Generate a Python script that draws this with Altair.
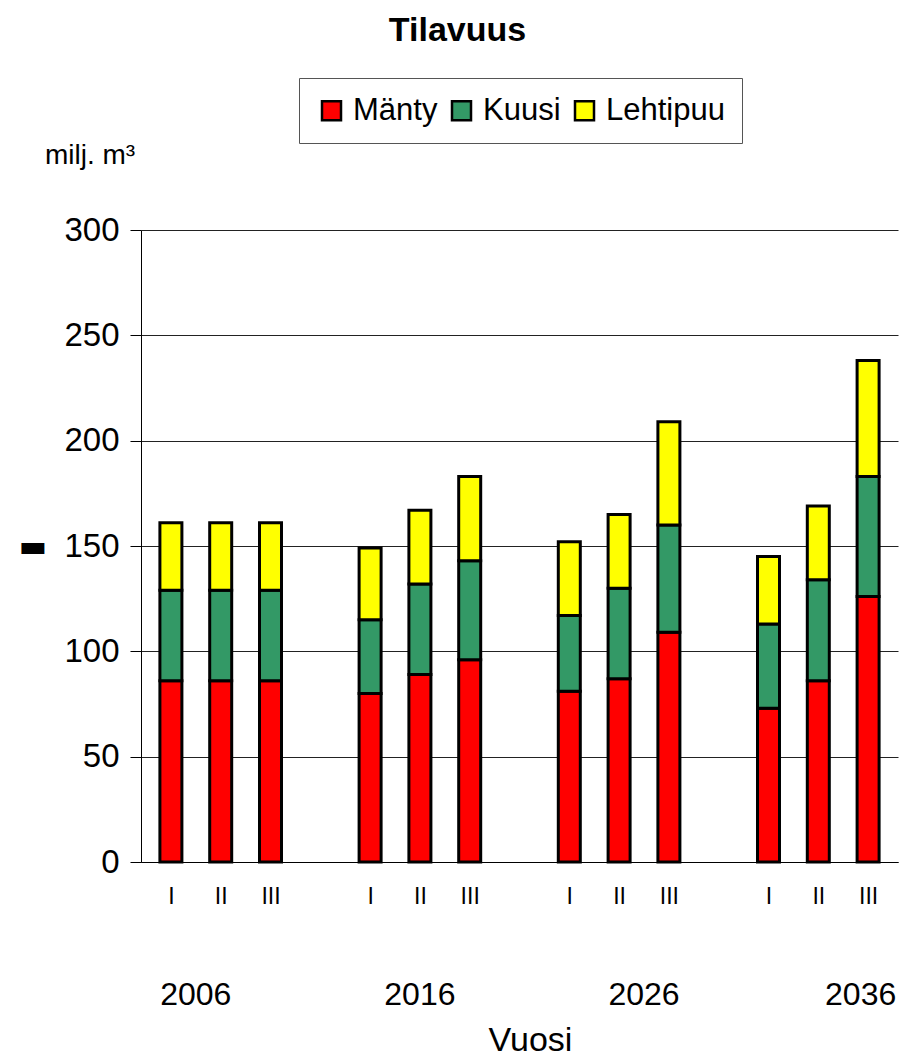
import altair as alt
import pandas as pd

periods = ["2006", "2016", "2026", "2036"]
scenarios = ["I", "II", "III"]
species = ["Mänty", "Kuusi", "Lehtipuu"]
colors = ["#FF0000", "#339966", "#FFFF00"]

manty = [86, 86, 86, 80, 89, 96, 81, 87, 109, 73, 86, 126]
kuusi = [43, 43, 43, 35, 43, 47, 36, 43, 51, 40, 48, 57]
lehti = [32, 32, 32, 34, 35, 40, 35, 35, 49, 32, 35, 55]

# position of the year labels along the slot axis (as drawn in the picture)
year_label_pos = [0.5, 5.0, 9.5, 13.85]

rows = []
for i, (m, k, l) in enumerate(zip(manty, kuusi, lehti)):
    g, s = divmod(i, 3)
    slot = g * 4 + s
    for order, (sp, v) in enumerate(zip(species, [m, k, l])):
        rows.append({"slot": slot, "period": periods[g], "scenario": scenarios[s],
                     "species": sp, "value": v, "order": order})
df = pd.DataFrame(rows)

years_df = pd.DataFrame({"pos": year_label_pos, "year": periods})

FONT = "Liberation Sans"

xscale = alt.Scale(domain=[-0.5, 14.5], nice=False, zero=False)

bars = alt.Chart(df).mark_bar(size=22, stroke="black", strokeWidth=3).encode(
    x=alt.X("slot:Q", scale=xscale,
            axis=alt.Axis(values=[0, 1, 2, 4, 5, 6, 8, 9, 10, 12, 13, 14],
                          labelExpr="['I','II','III','IV'][datum.value % 4]",
                          ticks=False, grid=False, domain=True, domainColor="black",
                          labelFontSize=23, labelFont=FONT, labelColor="black",
                          labelPadding=23,
                          title="Vuosi", titleFontSize=34, titleFont=FONT,
                          titleFontWeight="normal", titleColor="black",
                          titleX=389, titleY=178, titleBaseline="middle")),
    y=alt.Y("value:Q", stack="zero",
            scale=alt.Scale(domain=[0, 300], nice=False),
            axis=alt.Axis(values=[0, 50, 100, 150, 200, 250, 300],
                          grid=True, gridColor="#222222", gridWidth=1, gridOpacity=1,
                          domainColor="black", tickColor="black", tickSize=11,
                          labelFontSize=33, labelFont=FONT, labelColor="black",
                          labelPadding=11,
                          title="▬", titleAngle=0, titleFontSize=30,
                          titleFont="DejaVu Sans", titleColor="black",
                          titleX=-123, titleY=316, titleAlign="left",
                          titleBaseline="middle")),
    color=alt.Color("species:N", scale=alt.Scale(domain=species, range=colors),
                    legend=alt.Legend(title=None, orient="none", direction="horizontal",
                                      legendX=158, legendY=-152,
                                      symbolType="square", symbolSize=361,
                                      symbolStrokeColor="black", symbolStrokeWidth=2.5,
                                      labelFontSize=31, labelFont=FONT, labelColor="black",
                                      columnPadding=8, labelOffset=6,
                                      padding=17, strokeColor="#555555",
                                      fillColor="white")),
    order=alt.Order("order:Q"),
)

years = alt.Chart(years_df).mark_text(fontSize=32, font=FONT, color="black",
                                      baseline="middle").encode(
    x=alt.X("pos:Q", scale=xscale),
    y=alt.value(765),
    text="year:N",
)

unit = alt.Chart(pd.DataFrame({"t": ["milj. m³"]})).mark_text(
    fontSize=28, font=FONT, color="black", align="left", baseline="middle"
).encode(x=alt.value(-96), y=alt.value(-74), text="t:N")

chart = alt.layer(bars, years, unit).properties(
    width=757, height=632,
    title=alt.TitleParams("Tilavuus", fontSize=34, font=FONT, fontWeight="bold",
                          color="black", anchor="middle", dx=-62, offset=30),
    padding={"left": 10, "top": 5, "right": 5, "bottom": 5},
).configure_view(stroke=None)

chart.save("out.html", embed_options={"renderer": "svg", "actions": False})
